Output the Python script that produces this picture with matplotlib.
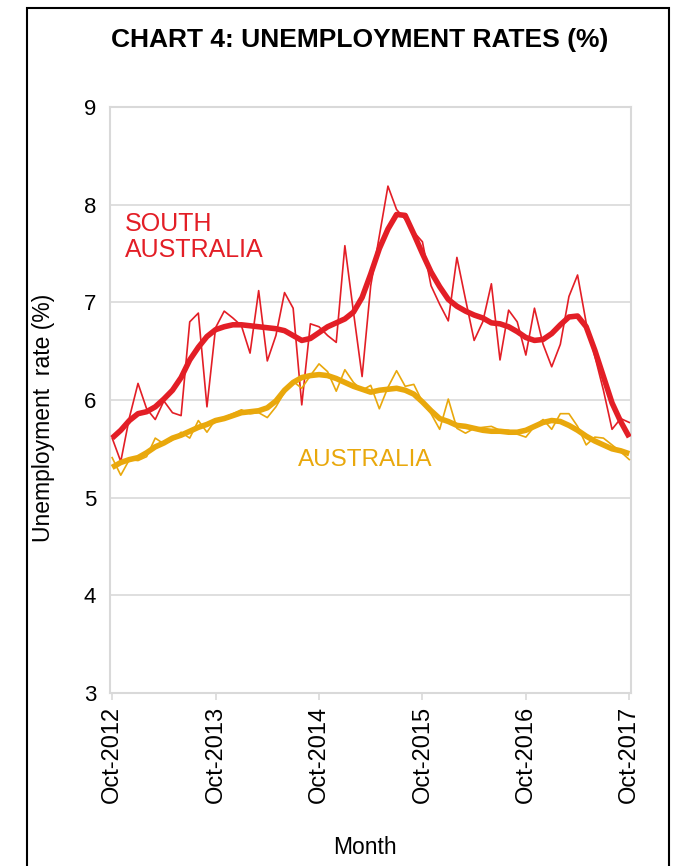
import matplotlib
matplotlib.use("Agg")
import matplotlib.pyplot as plt
from matplotlib.patches import Rectangle

plt.rcParams['font.family'] = ['Liberation Sans', 'DejaVu Sans']

# Monthly data, Oct-2012 .. Oct-2017 (61 months)
sa_original = [5.61, 5.37, 5.82, 6.17, 5.91, 5.80, 5.99, 5.87, 5.84, 6.80,
               6.89, 5.93, 6.74, 6.91, 6.84, 6.76, 6.48, 7.12, 6.40, 6.66,
               7.10, 6.94, 5.95, 6.78, 6.75, 6.66, 6.59, 7.58, 6.90, 6.24,
               7.17, 7.68, 8.19, 7.95, 7.85, 7.72, 7.62, 7.17, 6.98, 6.81,
               7.46, 7.03, 6.61, 6.80, 7.19, 6.41, 6.92, 6.80, 6.46, 6.94,
               6.57, 6.34, 6.57, 7.06, 7.28, 6.79, 6.45, 6.10, 5.70, 5.81,
               5.77]
sa_trend = [5.61, 5.69, 5.79, 5.86, 5.88, 5.93, 6.01, 6.10, 6.23, 6.41,
            6.54, 6.65, 6.72, 6.75, 6.77, 6.77, 6.76, 6.75, 6.74, 6.73,
            6.71, 6.66, 6.61, 6.63, 6.69, 6.75, 6.79, 6.83, 6.90, 7.05,
            7.29, 7.55, 7.75, 7.90, 7.89, 7.70, 7.50, 7.31, 7.16, 7.03,
            6.96, 6.91, 6.87, 6.84, 6.79, 6.78, 6.75, 6.70, 6.64, 6.61,
            6.62, 6.68, 6.77, 6.85, 6.86, 6.75, 6.51, 6.24, 5.97, 5.78,
            5.62]
aus_original = [5.41, 5.23, 5.39, 5.38, 5.42, 5.61, 5.55, 5.59, 5.67, 5.61,
                5.79, 5.67, 5.80, 5.82, 5.86, 5.90, 5.86, 5.87, 5.82, 5.93,
                6.08, 6.19, 6.12, 6.25, 6.37, 6.29, 6.09, 6.31, 6.18, 6.10,
                6.15, 5.91, 6.13, 6.30, 6.14, 6.16, 5.98, 5.86, 5.70, 6.01,
                5.71, 5.66, 5.71, 5.72, 5.73, 5.69, 5.69, 5.65, 5.62, 5.73,
                5.80, 5.70, 5.86, 5.86, 5.73, 5.54, 5.62, 5.61, 5.54, 5.47,
                5.39]
aus_trend = [5.31, 5.36, 5.39, 5.41, 5.46, 5.52, 5.56, 5.61, 5.64, 5.68,
             5.72, 5.75, 5.79, 5.81, 5.84, 5.87, 5.88, 5.89, 5.92, 5.99,
             6.10, 6.18, 6.23, 6.25, 6.26, 6.25, 6.22, 6.18, 6.14, 6.11,
             6.08, 6.10, 6.11, 6.12, 6.10, 6.06, 5.98, 5.89, 5.81, 5.78,
             5.74, 5.73, 5.71, 5.69, 5.68, 5.68, 5.67, 5.67, 5.69, 5.73,
             5.77, 5.79, 5.78, 5.74, 5.69, 5.63, 5.58, 5.54, 5.50, 5.48,
             5.45]
tick_positions = [0, 12, 24, 36, 48, 60]
tick_labels = ['Oct-2012', 'Oct-2013', 'Oct-2014', 'Oct-2015', 'Oct-2016', 'Oct-2017']
y_ticks = [3, 4, 5, 6, 7, 8, 9]

RED = '#E31E26'
GOLD = '#E9A80C'
GRID = '#D9D9D9'

months = list(range(len(sa_original)))

fig = plt.figure(figsize=(6.75, 8.66), dpi=100)
ax = fig.add_axes([110/675, 1-693/866, (631-110)/675, (693-107)/866])

ax.plot(months, sa_original, color=RED, lw=1.2, zorder=3)
ax.plot(months, sa_trend, color=RED, lw=4.0, zorder=4, solid_capstyle='butt')
ax.plot(months, aus_original, color=GOLD, lw=1.2, zorder=3)
ax.plot(months, aus_trend, color=GOLD, lw=4.0, zorder=4, solid_capstyle='butt')

ax.set_ylim(3, 9)
ax.set_xlim(-0.25, 60.2)
ax.set_yticks(y_ticks)
ax.set_yticklabels([str(v) for v in y_ticks], fontsize=16)
ax.set_xticks(tick_positions)
ax.set_xticklabels(tick_labels, rotation=90, fontsize=17)
ax.tick_params(axis='y', length=0, pad=10)
ax.tick_params(axis='x', length=5, color=GRID, width=1.2, pad=4)
ax.grid(axis='y', color=GRID, lw=1.2)
ax.set_axisbelow(True)
for s in ax.spines.values():
    s.set_color(GRID)
    s.set_linewidth(1.5)

ax.set_ylabel('Unemployment  rate (%)', fontsize=16.5)
ax.yaxis.set_label_coords((55-110)/521, (693-418)/586)
fig.text(365/675, 1-848/866, 'Month', fontsize=16.5, ha='center', va='center')
fig.text(360/675, 1-40/866, 'CHART 4: UNEMPLOYMENT RATES (%)',
         fontsize=19, fontweight='bold', ha='center', va='center')

ax.text(1.5, 7.93, 'SOUTH\nAUSTRALIA', color=RED, fontsize=18,
        ha='left', va='top', linespacing=1.15)
ax.text(21.6, 5.39, 'AUSTRALIA', color=GOLD, fontsize=17.5,
        ha='left', va='center')

fig.patches.append(Rectangle((27/675, -0.02), (669-27)/675, 1-8/866+0.02,
                             transform=fig.transFigure, fill=False,
                             edgecolor='black', lw=1.5))

fig.savefig('out.png', dpi=100)
